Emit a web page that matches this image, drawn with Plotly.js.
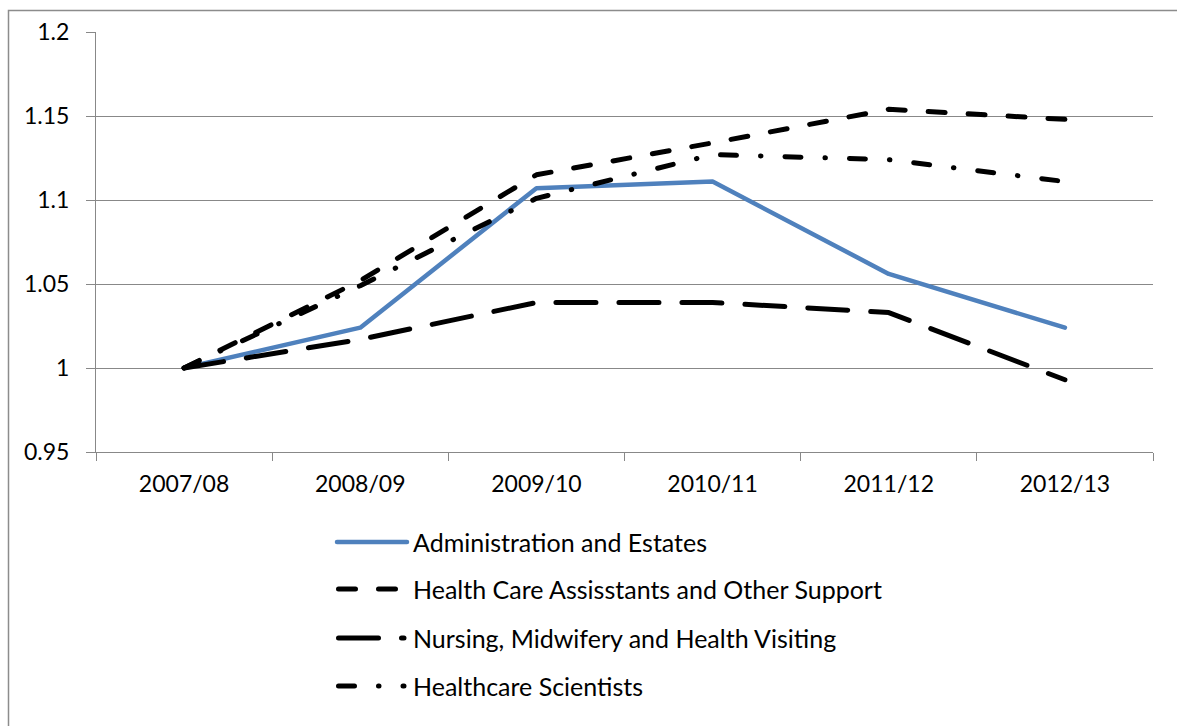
<!DOCTYPE html>
<html>
<head>
<meta charset="utf-8">
<script src="https://cdn.plot.ly/plotly-3.0.1.min.js"></script>
<style>
  html, body { margin: 0; padding: 0; background: #fff; }
  #chart { width: 1177px; height: 726px; }
  .js-line { stroke-linecap: round; stroke-linejoin: round; }
  .shapelayer path { stroke-linecap: round; }
</style>
</head>
<body>
<div id="chart"></div>
<script>
// Staff group indices, 2007/08 = 1
const seasons = ['2007/08', '2008/09', '2009/10', '2010/11', '2011/12', '2012/13'];
const seriesNames = [
  'Administration and Estates',
  'Health Care Assisstants and Other Support',
  'Nursing, Midwifery and Health Visiting',
  'Healthcare Scientists'
];
const adminEstates         = [1, 1.024, 1.107, 1.111, 1.056, 1.024];
const careAssistants       = [1, 1.052, 1.115, 1.134, 1.154, 1.148];
const nursingMidwifery     = [1, 1.017, 1.039, 1.039, 1.033, 0.993];
const healthcareScientists = [1, 1.049, 1.101, 1.127, 1.124, 1.111];
const yTicks = [0.95, 1, 1.05, 1.1, 1.15, 1.2];

const FONT = 'Lato, "Open Sans", sans-serif';
const W = 1177, H = 726;
const M = { l: 96, r: 24, t: 32, b: 274 };
const plotW = W - M.l - M.r, plotH = H - M.t - M.b;
const px = x => (x - M.l) / plotW;
const py = y => (H - M.b - y) / plotH;

const styles = [
  { color: '#4F81BD', width: 4.5, dash: 'solid' },
  { color: '#000000', width: 5, dash: '17px,23px' },
  { color: '#000000', width: 5, dash: '40px,23px' },
  { color: '#000000', width: 5, dash: '16px,24px,0.5px,24px' }
];
const values = [adminEstates, careAssistants, nursingMidwifery, healthcareScientists];

const traces = values.map((v, i) => ({
  type: 'scatter',
  mode: 'lines',
  name: seriesNames[i],
  x: seasons,
  y: v,
  line: { color: styles[i].color, width: styles[i].width, dash: styles[i].dash },
  showlegend: false,
  hoverinfo: 'x+y+name'
}));

// Legend drawn below the plot: sample line + label for each series
const legendRows = [542, 589, 638, 686];
const shapes = [
  {
    type: 'rect', xref: 'paper', yref: 'paper',
    x0: px(8.5), x1: px(1200), y0: py(10.5), y1: py(800),
    line: { color: '#8c8c8c', width: 1.5 }, fillcolor: 'rgba(0,0,0,0)', layer: 'below'
  }
];
const annotations = [];
seriesNames.forEach((name, i) => {
  const y = legendRows[i];
  const solid = styles[i].dash === 'solid';
  shapes.push({
    type: 'line', xref: 'paper', yref: 'paper',
    x0: px(solid ? 337 : 338.5), x1: px(solid ? 407 : 404),
    y0: py(y), y1: py(y),
    line: { color: styles[i].color, width: styles[i].width, dash: styles[i].dash }
  });
  annotations.push({
    xref: 'paper', yref: 'paper', x: px(411), y: py(y),
    xanchor: 'left', yanchor: 'middle', showarrow: false,
    text: name, font: { family: FONT, size: 25, color: '#000' }
  });
});

const layout = {
  width: W, height: H,
  margin: M,
  paper_bgcolor: '#fff', plot_bgcolor: '#fff',
  font: { family: FONT, size: 23, color: '#000' },
  xaxis: {
    type: 'category',
    range: [-0.5, 5.5],
    showgrid: false, zeroline: false,
    showline: true, linecolor: '#888', linewidth: 1,
    ticks: 'outside', tickson: 'boundaries', ticklen: 8, tickcolor: '#888', tickwidth: 1,
    ticklabelstandoff: 11,
    tickfont: { family: FONT, size: 23, color: '#000' },
    fixedrange: true
  },
  yaxis: {
    range: [0.95, 1.2],
    tickvals: yTicks,
    showgrid: true, gridcolor: '#888', gridwidth: 1,
    zeroline: false,
    showline: true, linecolor: '#888', linewidth: 1,
    ticks: 'outside', ticklen: 9, tickcolor: '#888', tickwidth: 1,
    ticklabelstandoff: 12,
    tickfont: { family: FONT, size: 23, color: '#000' },
    fixedrange: true
  },
  shapes: shapes,
  annotations: annotations,
  showlegend: false
};

Plotly.newPlot('chart', traces, layout, { displayModeBar: false, staticPlot: true });
</script>
</body>
</html>
